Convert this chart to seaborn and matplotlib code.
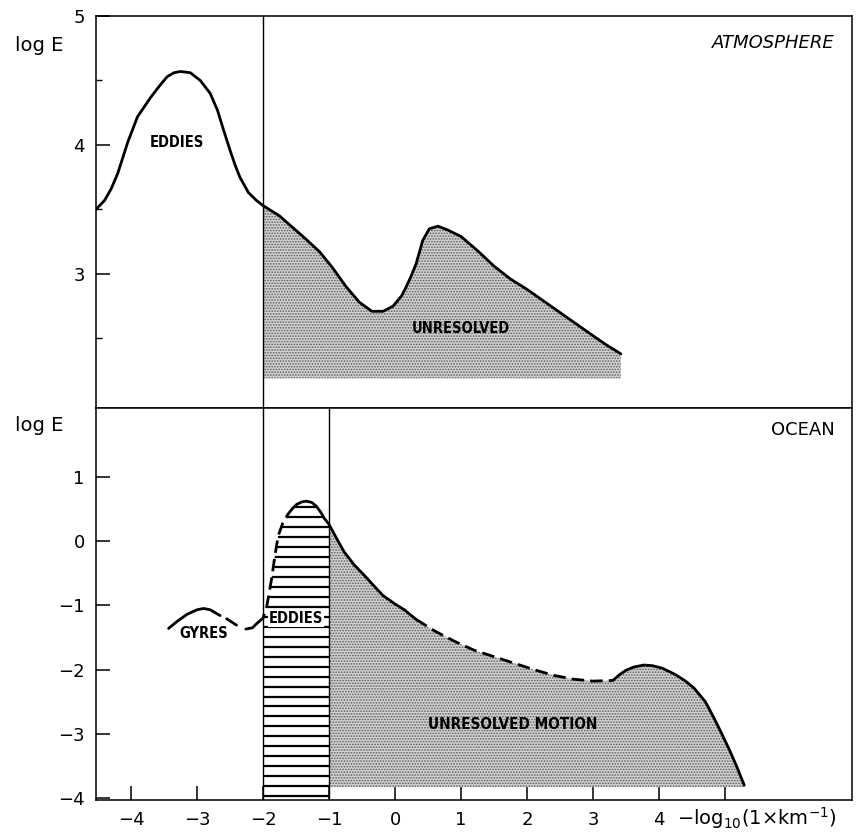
import numpy as np
import pandas as pd
import matplotlib
matplotlib.use("Agg")
import matplotlib.pyplot as plt
from matplotlib.patches import Polygon
import seaborn as sns

# ---------------- data ----------------
# Atmosphere spectrum, log E vs -log10(1 x km^-1)
atm_x = [-4.53, -4.40, -4.30, -4.20, -4.05, -3.90, -3.70, -3.55, -3.45, -3.35,
         -3.25, -3.10, -2.95, -2.80, -2.69, -2.60, -2.50, -2.42, -2.35, -2.22,
         -2.10, -2.00,
         -1.75, -1.55, -1.35, -1.14, -0.95, -0.74, -0.54, -0.35, -0.18, -0.03,
         0.10, 0.17, 0.25, 0.32, 0.42, 0.52, 0.65, 0.80, 1.00, 1.25, 1.50,
         1.75, 2.00, 2.25, 2.50, 2.75, 3.00, 3.20, 3.42]
atm_y = [3.50, 3.57, 3.66, 3.78, 4.02, 4.22, 4.37, 4.47, 4.53, 4.56,
         4.57, 4.56, 4.50, 4.40, 4.27, 4.12, 3.96, 3.84, 3.75, 3.63,
         3.57, 3.53,
         3.45, 3.36, 3.27, 3.17, 3.05, 2.90, 2.78, 2.71, 2.71, 2.75,
         2.83, 2.90, 2.99, 3.08, 3.26, 3.35, 3.37, 3.34, 3.29, 3.18, 3.06,
         2.96, 2.88, 2.79, 2.70, 2.61, 2.52, 2.45, 2.38]
atm_fill_base = 2.19
atm_unresolved_start = -2.0

# Ocean spectrum pieces
gyres_x = [-3.43, -3.30, -3.15, -3.00, -2.90, -2.80, -2.65]
gyres_y = [-1.36, -1.25, -1.14, -1.07, -1.05, -1.07, -1.16]
gyres_dash_x = [-2.55, -2.40]
gyres_dash_y = [-1.21, -1.31]
link_x = [-2.26, -2.16, -2.09]
link_y = [-1.37, -1.35, -1.28]
eddy_rise_x = [-2.09, -2.00, -1.94, -1.87, -1.82, -1.77, -1.70, -1.62]
eddy_rise_y = [-1.28, -1.20, -1.00, -0.59, -0.23, 0.08, 0.28, 0.42]
eddy_fall_x = [-1.62, -1.55, -1.49, -1.41, -1.34, -1.26, -1.19, -1.12, -1.07,
               -1.00, -0.88, -0.77, -0.62, -0.46, -0.30, -0.18, 0.00, 0.14, 0.32]
eddy_fall_y = [0.42, 0.51, 0.57, 0.61, 0.62, 0.60, 0.54, 0.44, 0.35,
               0.26, 0.03, -0.17, -0.37, -0.54, -0.72, -0.85, -0.98, -1.07, -1.22]
mid_x = [0.32, 0.60, 0.90, 1.20, 1.50, 1.80, 2.10, 2.40, 2.70, 3.00, 3.30]
mid_y = [-1.22, -1.40, -1.56, -1.70, -1.80, -1.90, -2.00, -2.09, -2.15, -2.18, -2.17]
tail_x = [3.30, 3.40, 3.50, 3.62, 3.77, 3.90, 4.05, 4.25, 4.40, 4.53, 4.70,
          4.83, 4.95, 5.07, 5.18, 5.29]
tail_y = [-2.17, -2.08, -2.01, -1.96, -1.93, -1.94, -1.98, -2.08, -2.18, -2.29,
          -2.50, -2.75, -3.00, -3.26, -3.52, -3.80]
ocean_fill_base = -3.83
eddy_band = [-2.0, -1.0]

atm_yticks = [3, 4, 5]
atm_minor = [2.5, 3.5, 4.5]
ocean_yticks = [-4, -3, -2, -1, 0, 1]
ocean_ytick_labels = ["\u22124", "\u22123", "\u22122", "\u22121", "0", "1"]
xticks = [-4, -3, -2, -1, 0, 1, 2, 3, 4, 5]
xtick_labels = ["\u22124", "\u22123", "\u22122", "\u22121", "0", "1", "2", "3", "4", ""]

# ---------------- style ----------------
sns.set_theme(style="white")
plt.rcParams["font.family"] = ["DejaVu Sans"]
plt.rcParams["mathtext.fontset"] = "dejavusans"
plt.rcParams["hatch.linewidth"] = 0.8
for k in ("text.color", "axes.labelcolor", "xtick.color", "ytick.color",
          "xtick.labelcolor", "ytick.labelcolor"):
    plt.rcParams[k] = "black"

LW = 2.0
DASH = (0, (4.5, 2.2))
STIP_FACE = "#d2d2d2"
STIP_DOT = "#5a5a5a"

fig = plt.figure(figsize=(8.57, 8.39), dpi=100)
ax1 = fig.add_axes([0.112, 0.5137, 0.882, 0.4672])
ax2 = fig.add_axes([0.112, 0.0465, 0.882, 0.4672])

for ax in (ax1, ax2):
    ax.set_xlim(-4.53, 6.92)
    for s in ax.spines.values():
        s.set_visible(True)
        s.set_color("black")
        s.set_linewidth(1.1)
    ax.set_facecolor("white")

ax1.set_ylim(1.96, 5.0)
ax2.set_ylim(-4.03, 2.07)

def line(ax, xs, ys, ls="-"):
    df = pd.DataFrame({"x": xs, "y": ys})
    sns.lineplot(data=df, x="x", y="y", ax=ax, color="black", lw=LW,
                 linestyle=ls, sort=False, estimator=None,
                 solid_capstyle="round", solid_joinstyle="round")

# ---------- top panel ----------
ax_x = np.array(atm_x)
ax_y = np.array(atm_y)
m = ax_x >= atm_unresolved_start
ax1.fill_between(ax_x[m], atm_fill_base, ax_y[m], facecolor=STIP_FACE,
                 edgecolor=STIP_DOT, hatch="......", linewidth=0, zorder=1)
line(ax1, atm_x, atm_y)
ax1.axvline(atm_unresolved_start, color="black", lw=1.0, zorder=2)
ax1.text(-3.3, 4.02, "EDDIES", ha="center", va="center", fontsize=10.5,
         fontweight="bold", fontstretch="condensed")
ax1.text(0.99, 2.58, "UNRESOLVED", ha="center", va="center", fontsize=10.5,
         fontweight="bold", fontstretch="condensed")
ax1.text(0.977, 0.931, "ATMOSPHERE", transform=ax1.transAxes, ha="right",
         va="center", fontsize=13, style="italic")

ax1.set_yticks(atm_yticks)
ax1.set_yticklabels([str(t) for t in atm_yticks])
ax1.set_yticks(atm_minor, minor=True)
ax1.set_xticks([])
ax1.tick_params(axis="y", which="major", direction="in", length=10, width=1.1,
                labelsize=13, pad=8, left=True)
ax1.tick_params(axis="y", which="minor", direction="in", length=4, width=1.0,
                left=True)
ax1.set_xlabel("")
ax1.set_ylabel("")

# ---------- bottom panel ----------
full_x = np.array(eddy_fall_x + mid_x[1:] + tail_x[1:])
full_y = np.array(eddy_fall_y + mid_y[1:] + tail_y[1:])
mm = full_x >= eddy_band[1]
ax2.fill_between(full_x[mm], ocean_fill_base, full_y[mm], facecolor=STIP_FACE,
                 edgecolor=STIP_DOT, hatch="......", linewidth=0, zorder=1)

# hatched eddies band (-2 .. -1), region under the curve
nf = eddy_fall_x.index(-1.00) + 1
band_x = np.array(eddy_rise_x[1:] + eddy_fall_x[1:nf])
band_y = np.array(eddy_rise_y[1:] + eddy_fall_y[1:nf])
poly_pts = [(eddy_band[0], -4.03)] + list(zip(band_x, band_y)) + [(eddy_band[1], -4.03)]
clip = Polygon(poly_pts, closed=True, facecolor="none", edgecolor="none")
ax2.add_patch(clip)
ys_h = np.arange(-3.97, 0.75, 0.155)
hl = ax2.hlines(ys_h, eddy_band[0], eddy_band[1], color="black", lw=1.6, zorder=2)
hl.set_clip_path(clip)

line(ax2, gyres_x, gyres_y)
line(ax2, gyres_dash_x, gyres_dash_y)
line(ax2, link_x, link_y)
line(ax2, eddy_rise_x, eddy_rise_y, ls=DASH)
line(ax2, eddy_fall_x, eddy_fall_y)
line(ax2, mid_x, mid_y, ls=DASH)
line(ax2, tail_x, tail_y)
for xv in eddy_band:
    ax2.axvline(xv, color="black", lw=1.0, zorder=3)

ax2.text(-2.9, -1.44, "GYRES", ha="center", va="center", fontsize=10.5,
         fontweight="bold", fontstretch="condensed")
ax2.text(-1.5, -1.2, "EDDIES", ha="center", va="center", fontsize=10.5,
         fontweight="bold", fontstretch="condensed", zorder=4,
         bbox=dict(facecolor="white", edgecolor="none", pad=0.6))
ax2.text(1.78, -2.86, "UNRESOLVED MOTION", ha="center", va="center", fontsize=11,
         fontweight="bold", fontstretch="condensed")
ax2.text(0.977, 0.944, "OCEAN", transform=ax2.transAxes, ha="right",
         va="center", fontsize=13)

ax2.set_yticks(ocean_yticks)
ax2.set_yticklabels(ocean_ytick_labels)
ax2.set_xticks(xticks)
ax2.set_xticklabels(xtick_labels)
ax2.tick_params(axis="both", which="major", direction="in", length=10, width=1.1,
                labelsize=13, pad=8, left=True, bottom=True)
ax2.set_xlabel("")
ax2.set_ylabel("")
ax2.text(0.769, -0.045, r"$-\mathrm{log}_{10}(1{\times}\mathrm{km}^{-1})$",
         transform=ax2.transAxes, ha="left", va="center", fontsize=14)

fig.text(0.0175, 0.946, "log E", ha="left", va="center", fontsize=14)
fig.text(0.0175, 0.493, "log E", ha="left", va="center", fontsize=14)

fig.savefig("out.png", dpi=100, facecolor="white")
